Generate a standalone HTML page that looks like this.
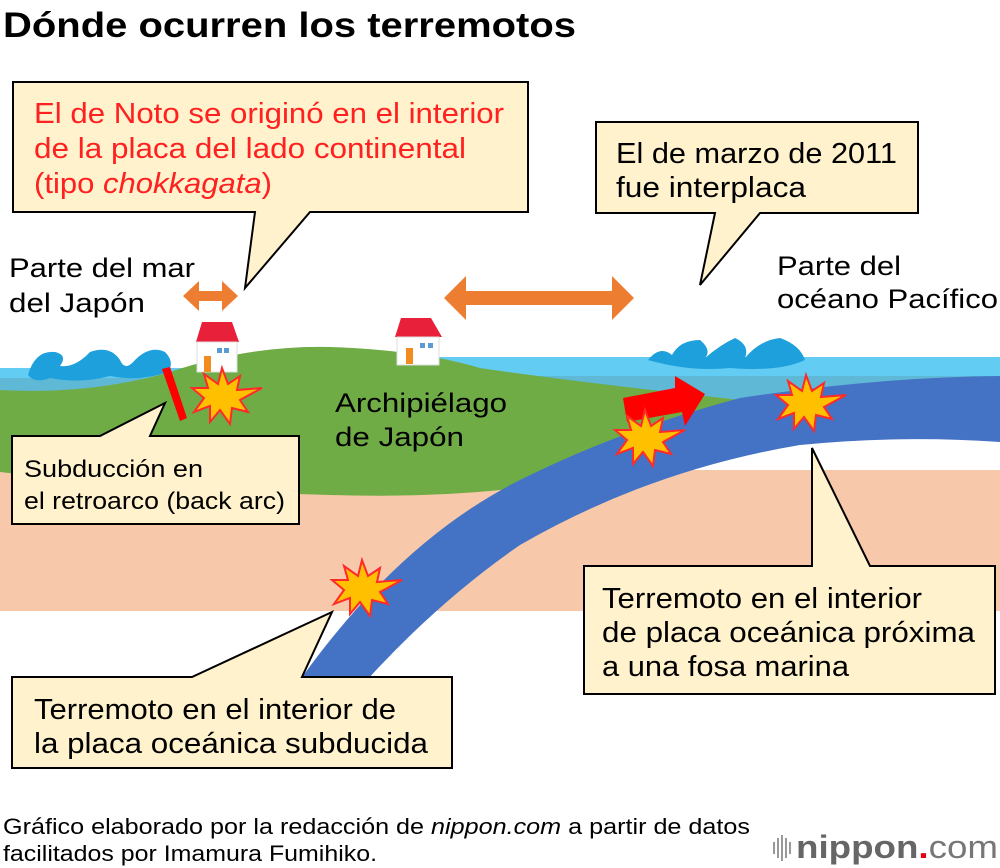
<!DOCTYPE html>
<html><head><meta charset="utf-8"><style>
body{margin:0;background:#fff;}
svg{display:block;font-family:"Liberation Sans",Arial,sans-serif;}
</style></head><body>
<svg width="1000" height="868" viewBox="0 0 1000 868" xmlns="http://www.w3.org/2000/svg">
<defs>
<polygon id="s" fill="#FFC000" stroke="#FF2A2A" stroke-width="2" points="0,-30 6,-14 18,-22 15,-8 40,-10 18,2 26,14 10,10 8,26 -2,12 -12,24 -12,8 -28,14 -18,0 -30,-10 -14,-10 -18,-24 -4,-14"/>
</defs>
<rect width="1000" height="868" fill="#fff"/>
<text x="3" y="37" font-size="35" font-weight="bold" fill="#000" textLength="573" lengthAdjust="spacingAndGlyphs">Dónde ocurren los terremotos</text>
<rect x="0" y="470" width="1000" height="141" fill="#F7C9AA"/>
<rect x="0" y="368" width="200" height="30" fill="#63CCF3"/>
<path d="M0 378 L180 378 L180 400 Q100 395 0 390Z" fill="#5FB8D6"/>
<rect x="430" y="357" width="570" height="40" fill="#63CCF3"/>
<path d="M520 376 L1000 376 L1000 400 L700 410 Z" fill="#5FB8D6"/>
<path d="M0 390 Q90 395 170 372 Q250 345 330 347 Q420 350 480 368 Q560 380 740 400 L620 470 Q500 500 330 495 Q150 490 0 472 Z" fill="#6FAC46"/>
<path d="M1000 376 Q880 377 740 398 Q620 430 520 480 Q400 540 300 680 L367 680 Q440 600 520 545 Q650 470 800 445 Q900 435 1000 442 Z" fill="#4472C4"/>
<path d="M28 375 Q35 350 55 352 Q68 355 60 366 Q75 368 90 352 Q110 345 120 360 Q125 372 135 360 Q150 345 165 352 Q175 362 168 372 Q140 382 110 376 Q80 384 50 378 Q35 384 28 375Z" fill="#1EA0DC"/>
<path d="M648 360 Q660 345 672 355 Q680 340 700 340 Q712 350 705 358 Q720 345 735 338 Q750 345 745 358 Q760 340 780 338 Q800 345 805 360 Q780 372 730 368 Q690 372 648 360Z" fill="#1EA0DC"/>
<g>
<polygon points="196,342 202,322 232,322 239,342" fill="#E8203A"/>
<rect x="197" y="342" width="40" height="30" fill="#fff" stroke="#ddd"/>
<rect x="204" y="356" width="7" height="16" fill="#F28C1E"/>
<rect x="217" y="348" width="5" height="5" fill="#5B9BD5"/><rect x="224" y="348" width="5" height="5" fill="#5B9BD5"/>
<polygon points="395,337 401,318 431,318 442,337" fill="#E8203A"/>
<rect x="397" y="337" width="42" height="28" fill="#fff" stroke="#ddd"/>
<rect x="406" y="348" width="7" height="16" fill="#F28C1E"/>
<rect x="420" y="343" width="5" height="5" fill="#5B9BD5"/><rect x="428" y="343" width="5" height="5" fill="#5B9BD5"/>
</g>
<polygon points="183,296 199,281 199,291 222,291 222,281 238,296 222,311 222,301 199,301 199,311" fill="#ED7D31"/>
<polygon points="444,298 466,276 466,291 612,291 612,276 634,298 612,320 612,305 466,305 466,320" fill="#ED7D31"/>
<polygon points="162,369 170,367 187,418 180,421" fill="#FF0000"/>
<polygon points="623,398 675,388 675,376 705,394 685,426 682,412 627,422" fill="#FF0000"/>
<use href="#s" transform="translate(222,398)"/>
<use href="#s" transform="translate(645,440)"/>
<use href="#s" transform="translate(806,405)"/>
<use href="#s" transform="translate(362,590)"/>
<g font-size="27" fill="#000">
<text x="9" y="277" textLength="186" lengthAdjust="spacingAndGlyphs">Parte del mar</text>
<text x="9" y="312" textLength="136" lengthAdjust="spacingAndGlyphs">del Japón</text>
<text x="777" y="275" textLength="124" lengthAdjust="spacingAndGlyphs">Parte del</text>
<text x="777" y="308" textLength="221" lengthAdjust="spacingAndGlyphs">océano Pacífico</text>
<text x="335" y="412" textLength="172" lengthAdjust="spacingAndGlyphs">Archipiélago</text>
<text x="335" y="446" textLength="129" lengthAdjust="spacingAndGlyphs">de Japón</text>
</g>
<g fill="#FFF2CC" stroke="#000" stroke-width="2">
<path d="M13 82 H528 V212 H310 L245 288 L255 212 H13 Z"/>
<path d="M596 122 H918 V213 H760 L700 285 L715 213 H596 Z"/>
<path d="M12 436 H100 L165 403 L150 436 H299 V524 H12 Z"/>
<path d="M12 677 H192 L332 612 L302 677 H452 V768 H12 Z"/>
<path d="M584 566 H812 V448 L870 566 H995 V694 H584 Z"/>
</g>
<g font-size="29">
<text x="34" y="123" fill="#FF2020" textLength="470" lengthAdjust="spacingAndGlyphs">El de Noto se originó en el interior</text>
<text x="34" y="158" fill="#FF2020" textLength="432" lengthAdjust="spacingAndGlyphs">de la placa del lado continental</text>
<text x="34" y="193" fill="#FF2020" textLength="238" lengthAdjust="spacingAndGlyphs">(tipo <tspan font-style="italic">chokkagata</tspan>)</text>
<text x="616" y="163" textLength="281" lengthAdjust="spacingAndGlyphs">El de marzo de 2011</text>
<text x="616" y="197" textLength="190" lengthAdjust="spacingAndGlyphs">fue interplaca</text>
<text x="602" y="608" textLength="320" lengthAdjust="spacingAndGlyphs">Terremoto en el interior</text>
<text x="602" y="642" textLength="373" lengthAdjust="spacingAndGlyphs">de placa oceánica próxima</text>
<text x="602" y="676" textLength="247" lengthAdjust="spacingAndGlyphs">a una fosa marina</text>
<text x="34" y="719" textLength="362" lengthAdjust="spacingAndGlyphs">Terremoto en el interior de</text>
<text x="34" y="753" textLength="394" lengthAdjust="spacingAndGlyphs">la placa oceánica subducida</text>
</g>
<g font-size="24">
<text x="24" y="477" textLength="179" lengthAdjust="spacingAndGlyphs">Subducción en</text>
<text x="24" y="509" textLength="261" lengthAdjust="spacingAndGlyphs">el retroarco (back arc)</text>
</g>
<g font-size="22">
<text x="3" y="834" textLength="747" lengthAdjust="spacingAndGlyphs">Gráfico elaborado por la redacción de <tspan font-style="italic">nippon.com</tspan> a partir de datos</text>
<text x="3" y="861" textLength="374" lengthAdjust="spacingAndGlyphs">facilitados por Imamura Fumihiko.</text>
</g>
<g fill="#999"><rect x="773" y="842" width="2" height="12"/><rect x="777" y="838" width="2" height="20"/><rect x="781" y="835" width="2" height="26"/><rect x="785" y="838" width="2" height="20"/><rect x="789" y="842" width="2" height="12"/></g>
<text x="796" y="858" font-size="32" fill="#666" font-weight="bold" textLength="202" lengthAdjust="spacingAndGlyphs">nippon<tspan fill="#E60012">.</tspan><tspan font-weight="normal" fill="#777">com</tspan></text>
</svg>
</body></html>
